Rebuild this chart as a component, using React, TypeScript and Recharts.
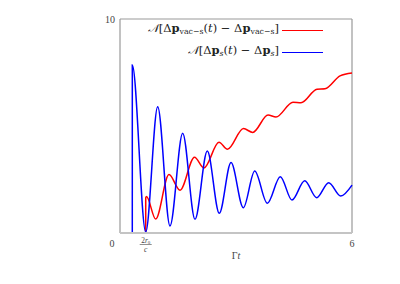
import React from 'react';
import { LineChart, Line, XAxis, YAxis, ReferenceLine, Legend } from 'recharts';

// time axis (Γt) and values
const BLUE_T = [0, 0.318, 0.3185, 0.665, 0.975, 1.293, 1.621, 1.94, 2.258, 2.568, 2.871, 3.189, 3.484, 3.81, 4.146, 4.448, 4.777, 5.087, 5.397, 5.708, 6.0];
const BLUE_V = [0, 0, 7.85, 0.05, 5.9, 0.33, 4.66, 0.64, 3.83, 0.92, 3.29, 1.18, 2.9, 1.39, 2.63, 1.54, 2.44, 1.65, 2.35, 1.73, 2.24];

const RED_T = [0, 0.665, 0.6655, 0.685, 0.923, 1.267, 1.552, 1.927, 2.172, 2.56, 2.78, 3.194, 3.432, 3.828, 4.034, 4.474, 4.681, 5.095, 5.302, 5.69, 6.0];
const RED_V = [0, 0, 1.65, 1.7, 0.65, 2.73, 2.0, 3.54, 3.04, 4.24, 3.91, 4.88, 4.7, 5.51, 5.42, 6.11, 6.09, 6.72, 6.74, 7.34, 7.48];

const X_TICKS = [0, 0.665, 6];
const Y_TICKS = [10];

const SERIF = '"Liberation Serif", "DejaVu Serif", serif';
const LEGEND_FONT = '"DejaVu Serif", serif';
const LABEL = '#444';

const blueData = BLUE_T.map((t, i) => ({ t, v: BLUE_V[i] }));
const redData = RED_T.map((t, i) => ({ t, v: RED_V[i] }));

function XTick({ x, y, payload }: any) {
  const v = payload.value;
  if (v === 0 || v === 6) {
    return (
      <text x={v === 0 ? x - 8 : x} y={y + 14} textAnchor="middle" fill={LABEL} fontSize={10} fontFamily={SERIF}>
        {v}
      </text>
    );
  }
  // 2r0/c fraction
  return (
    <g fill={LABEL} fontFamily={SERIF}>
      <text x={x} y={y + 9.5} textAnchor="middle" fontSize={7.5}>
        2<tspan fontStyle="italic">r</tspan>
        <tspan fontSize={5} dy={1.5}>0</tspan>
      </text>
      <line x1={x - 6} x2={x + 6} y1={y + 11.5} y2={y + 11.5} stroke={LABEL} strokeWidth={0.6} />
      <text x={x} y={y + 18.5} textAnchor="middle" fontSize={7.5} fontStyle="italic">
        c
      </text>
    </g>
  );
}

function YTick({ x, y, payload }: any) {
  return (
    <text x={x} y={y + 3.5} textAnchor="end" fill={LABEL} fontSize={10} fontFamily={SERIF}>
      {payload.value}
    </text>
  );
}

function XLabel({ viewBox }: any) {
  const cx = viewBox.x + viewBox.width / 2;
  return (
    <text x={cx} y={259} textAnchor="middle" fill={LABEL} fontSize={10} fontFamily={SERIF}>
      Γ<tspan fontStyle="italic">t</tspan>
    </text>
  );
}

const sub: React.CSSProperties = { fontSize: '0.68em', verticalAlign: '-0.3em', lineHeight: 1 };

function LegendBox() {
  const row: React.CSSProperties = {
    display: 'flex',
    justifyContent: 'flex-end',
    alignItems: 'center',
    height: 22,
  };
  const swatch = (color: string): React.CSSProperties => ({
    width: 41,
    height: 0,
    borderTop: `1.5px solid ${color}`,
    marginLeft: 3,
  });
  return (
    <div style={{ fontFamily: LEGEND_FONT, fontSize: 11.5, color: '#222', lineHeight: 1, whiteSpace: 'nowrap' }}>
      <div style={row}>
        <span>
          <i>𝒩</i>[Δ<b>p</b>
          <span style={sub}>vac−s</span>(<i>t</i>) − Δ<b>p</b>
          <span style={sub}>vac−s</span>]
        </span>
        <span style={swatch('#ff0000')} />
      </div>
      <div style={row}>
        <span>
          <i>𝒩</i>[Δ<b>p</b>
          <span style={sub}>
            <i>s</i>
          </span>
          (<i>t</i>) − Δ<b>p</b>
          <span style={sub}>
            <i>s</i>
          </span>
          ]
        </span>
        <span style={swatch('#0000ff')} />
      </div>
    </div>
  );
}

export default function App() {
  return (
    <div style={{ position: 'absolute', left: 0, top: 0, width: 400, height: 284, background: '#fff' }}>
      <LineChart width={400} height={284} margin={{ top: 19, right: 48, bottom: 21, left: 60 }}>
        <XAxis
          type="number"
          dataKey="t"
          domain={[0, 6]}
          ticks={X_TICKS}
          interval={0}
          height={30}
          tickSize={0}
          tickMargin={0}
          tickLine={false}
          axisLine={{ stroke: '#c4c4c4', strokeWidth: 2 }}
          tick={<XTick />}
          label={<XLabel />}
          allowDuplicatedCategory={false}
        />
        <YAxis
          type="number"
          domain={[0, 10]}
          ticks={Y_TICKS}
          interval={0}
          width={60}
          tickSize={0}
          tickMargin={5}
          tickLine={false}
          axisLine={false}
          tick={<YTick />}
        />
        <ReferenceLine x={0} stroke="#999" strokeWidth={1.2} />
        <ReferenceLine x={6} stroke="#999" strokeWidth={1.2} />
        <ReferenceLine y={10} stroke="#999" strokeWidth={1.2} />
        <Legend
          layout="horizontal"
          verticalAlign="middle"
          align="center"
          wrapperStyle={{ top: 19, left: 120, width: 203, height: 44 }}
          content={() => <LegendBox />}
        />
        <Line
          data={redData}
          dataKey="v"
          type="monotone"
          stroke="#ff0000"
          strokeWidth={1.5}
          dot={false}
          isAnimationActive={false}
        />
        <Line
          data={blueData}
          dataKey="v"
          type="monotone"
          stroke="#0000ff"
          strokeWidth={1.5}
          dot={false}
          isAnimationActive={false}
        />
      </LineChart>
    </div>
  );
}
